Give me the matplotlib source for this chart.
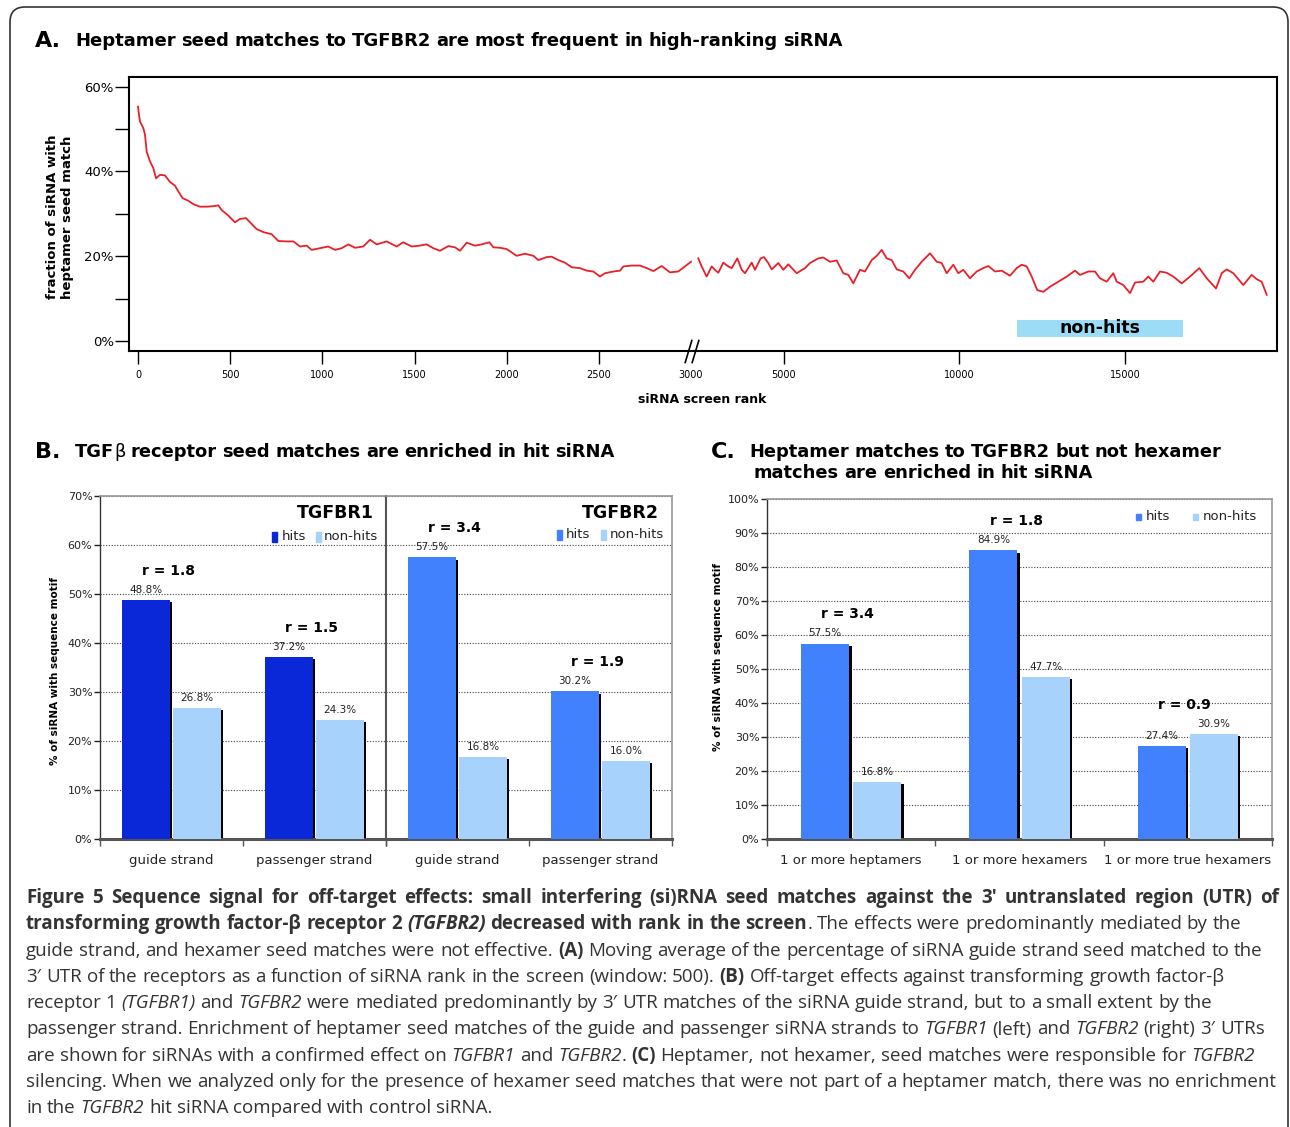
import numpy as np
import matplotlib
matplotlib.use("Agg")
import matplotlib.pyplot as plt
from matplotlib.patches import FancyBboxPatch, Rectangle
from matplotlib.transforms import offset_copy, blended_transform_factory

W, H = 1290, 1127

# ---- panel A: moving average (window 500) of siRNA with a heptamer seed match
rank_top = [0, 5, 11, 29, 38, 47, 65, 83, 98, 119, 146, 174, 200, 219, 242, 273, 300, 336,
            372, 408, 436, 454, 490, 526, 553, 586, 617, 644, 680, 725, 761, 807, 843, 879,
            915, 942, 987, 1032, 1069, 1105, 1141, 1177, 1222, 1259, 1295, 1349, 1403, 1439,
            1485, 1527, 1566, 1602, 1638, 1684, 1720, 1747, 1783, 1828, 1865, 1906, 1928,
            1964, 2000, 2054, 2099, 2145, 2172, 2217, 2244, 2280, 2316, 2353, 2398, 2434,
            2470, 2506, 2534, 2579, 2615, 2633, 2678, 2723, 2760, 2796, 2841, 2886, 2931,
            2967, 3000]
frac_top = [55.3, 53.5, 51.8, 50.2, 48.7, 44.7, 42.4, 40.8, 38.4, 39.2, 39.1, 37.5, 36.7, 35.3, 33.7, 33.1, 32.3, 31.7,
            31.7, 31.8, 32.0, 30.9, 29.6, 28.0, 28.8, 29.0, 27.6, 26.4, 25.7, 25.2, 23.6, 23.5, 23.5, 22.3,
            22.5, 21.5, 21.9, 22.3, 21.5, 21.9, 22.8, 22.0, 22.3, 23.9, 22.8, 23.5, 22.3, 23.3,
            22.3, 22.5, 22.8, 21.9, 21.3, 22.4, 22.1, 21.3, 23.2, 22.5, 22.8, 23.3, 22.1,
            22.0, 21.7, 20.1, 20.6, 20.1, 19.1, 19.8, 19.9, 19.1, 18.5, 17.4, 17.2, 16.6,
            16.4, 15.2, 16.0, 16.4, 16.6, 17.6, 17.8, 17.8, 17.2, 16.5, 17.7, 16.2, 16.4,
            17.6, 18.7]
rank_rest = [3030, 3108, 3223, 3338, 3414, 3490, 3605, 3720, 3798, 3927, 4028, 4104, 4258, 4333,
             4464, 4540, 4639, 4717, 4869, 4984, 5123, 5363, 5600, 5743, 5980, 6123, 6314, 6506,
             6694, 6837, 6980, 7171, 7314, 7506, 7649, 7791, 7934, 8077, 8220, 8408, 8580, 8743,
             8934, 9171, 9363, 9506, 9649, 9837, 9980, 10130, 10331, 10533, 10732, 10883, 11084,
             11286, 11536, 11738, 11888, 12039, 12190, 12358, 12539, 12741, 12991, 13244, 13494,
             13645, 13895, 14096, 14247, 14449, 14648, 14750, 14949, 15151, 15301, 15551, 15702,
             15853, 16054, 16256, 16455, 16708, 16958, 17238, 17461, 17741, 17913, 18063, 18262,
             18563, 18816, 18967, 19117, 19268]
frac_rest = [19.5, 17.6, 15.2, 17.6, 16.8, 16.1, 18.5, 17.6, 17.2, 19.5, 16.8, 16.0, 18.5, 16.8,
             19.5, 19.8, 18.4, 16.9, 18.4, 16.8, 18.1, 16.0, 17.2, 18.4, 19.5, 19.7, 18.7, 19.0,
             16.0, 15.6, 13.6, 16.8, 16.4, 19.1, 20.1, 21.5, 19.5, 19.1, 16.9, 16.4, 14.8, 16.8,
             18.7, 20.7, 18.7, 18.4, 16.0, 18.0, 16.0, 16.8, 14.8, 16.4, 17.2, 17.7, 16.4,
             16.6, 15.4, 17.2, 18.0, 17.6, 15.2, 12.0, 11.6, 12.8, 14.0, 15.2, 16.6,
             15.6, 16.4, 16.4, 14.8, 14.0, 16.0, 14.0, 13.2, 11.3, 13.8, 14.0, 15.2,
             14.0, 16.4, 16.1, 15.2, 13.6, 15.2, 17.2, 14.8, 12.4, 16.0, 16.9, 16.0,
             13.2, 15.6, 14.6, 14.0, 10.9]
a_xticks = [0, 500, 1000, 1500, 2000, 2500, 3000, 5000, 10000, 15000]
a_yticks = [0, 20, 40, 60]
nonhit_span = (11750, 16750)

# ---- panel B: TGFBR1 / TGFBR2 seed matches, hits vs non-hits
strands = ['guide strand', 'passenger strand']
r1_hits = [48.8, 37.2]
r1_non = [26.8, 24.3]
r1_ratio = ['1.8', '1.5']
r2_hits = [57.5, 30.2]
r2_non = [16.8, 16.0]
r2_ratio = ['3.4', '1.9']

# ---- panel C: heptamer vs hexamer matches to TGFBR2
c_groups = ['1 or more heptamers', '1 or more hexamers', '1 or more true hexamers']
c_hits = [57.5, 84.9, 27.4]
c_non = [16.8, 47.7, 30.9]
c_ratio = ['3.4', '1.8', '0.9']

caption = [
    [("Figure 5 Sequence signal for off-target effects: small interfering (si)RNA seed matches against the 3\u2032 untranslated region (UTR) of", 'b')],
    [("transforming growth factor-\u03b2 receptor 2 ", 'b'), ("(TGFBR2)", 'bi'),
     (" decreased with rank in the screen", 'b'), (". The effects were predominantly mediated by the", 'r')],
    [("guide strand, and hexamer seed matches were not effective. ", 'r'), ("(A)", 'b'),
     (" Moving average of the percentage of siRNA guide strand seed matched to the", 'r')],
    [("3\u2032 UTR of the receptors as a function of siRNA rank in the screen (window: 500). ", 'r'), ("(B)", 'b'),
     (" Off-target effects against transforming growth factor-\u03b2", 'r')],
    [("receptor 1 ", 'r'), ("(TGFBR1)", 'i'), (" and ", 'r'), ("TGFBR2", 'i'),
     (" were mediated predominantly by 3\u2032 UTR matches of the siRNA guide strand, but to a small extent by the", 'r')],
    [("passenger strand. Enrichment of heptamer seed matches of the guide and passenger siRNA strands to ", 'r'),
     ("TGFBR1", 'i'), (" (left) and ", 'r'), ("TGFBR2", 'i'), (" (right) 3\u2032 UTRs", 'r')],
    [("are shown for siRNAs with a confirmed effect on ", 'r'), ("TGFBR1", 'i'), (" and ", 'r'), ("TGFBR2", 'i'),
     (". ", 'r'), ("(C)", 'b'), (" Heptamer, not hexamer, seed matches were responsible for ", 'r'), ("TGFBR2", 'i')],
    [("silencing. When we analyzed only for the presence of hexamer seed matches that were not part of a heptamer match, there was no enrichment", 'r')],
    [("in the ", 'r'), ("TGFBR2", 'i'), (" hit siRNA compared with control siRNA.", 'r')],
]

RED = '#e8202a'
DARK_BLUE = '#0a27d8'
MID_BLUE = '#4181fe'
LIGHT_BLUE = '#a7d2fb'
STYLE = {'r': {}, 'b': {'weight': 'bold'}, 'i': {'style': 'italic'},
         'bi': {'weight': 'bold', 'style': 'italic'}}

plt.rcParams['font.family'] = ['DejaVu Sans']
fig = plt.figure(figsize=(W / 100, H / 100), dpi=100)
renderer = fig.canvas.get_renderer()


def box(l, t, r, b):
    return [l / W, 1 - b / H, (r - l) / W, (b - t) / H]


def ftext(x, y, s, **kw):
    return fig.text(x / W, 1 - y / H, s, **kw)


def fbox(l, t, r, b, color):
    fig.patches.append(Rectangle((l / W, 1 - b / H), (r - l) / W, (b - t) / H,
                                 transform=fig.transFigure, color=color))


def split_words(runs):
    words = [[]]
    for text, st in runs:
        for i, part in enumerate(text.split(' ')):
            if i:
                words.append([])
            if part:
                words[-1].append((part, st))
    return [w for w in words if w]


def put_runs(x, y, runs, size, family, color='black', space=0.3, width=None):
    gap = space * size * 100 / 72
    words = []
    for word in split_words(runs):
        pieces = []
        for part, st in word:
            t = ftext(0, y, part, fontsize=size, family=family, color=color,
                      va='baseline', ha='left', **STYLE[st])
            pieces.append((t, t.get_window_extent(renderer).width))
        words.append(pieces)
    total = sum(w for pieces in words for _, w in pieces)
    if width is not None and len(words) > 1:
        gap = (width - total) / (len(words) - 1)
    xs = x
    made = []
    for pieces in words:
        for t, w in pieces:
            t.set_x(xs / W)
            xs += w
            made.append(t)
        xs += gap
    return made, xs - gap - x


def fit_size(runs, target, family, space, base=10):
    made, w = put_runs(0, 0, runs, base, family, space=space)
    for t in made:
        t.remove()
    return base * target / w


# ---- outer rounded frame
fig.patches.append(FancyBboxPatch((0.10, -0.4), 12.78, 11.6, boxstyle='round,pad=0,rounding_size=0.15',
                                  transform=fig.dpi_scale_trans, fill=False, ec='#333333', lw=1.2))

# ---- panel A
brk_v = [-1000, 3000, 3000.5, 5000, 10000, 15000, 30000]
brk_p = [138 - 1000 * 553 / 3000, 691, 697, 784, 959, 1125, 1125 + 15000 * 166 / 5000]


def fwd(v):
    return np.interp(v, brk_v, brk_p)


def inv(p):
    return np.interp(p, brk_p, brk_v)


axA = fig.add_axes(box(129, 77, 1277, 351))
axA.set_xscale('function', functions=(fwd, inv))
axA.plot(rank_top, frac_top, color=RED, lw=1.3)
axA.plot(rank_rest, frac_rest, color=RED, lw=1.3)
axA.set_xlim(inv(129), inv(1277))
axA.set_ylim(-2.36, 62.3)
axA.set_yticks(a_yticks, [f'{v}%' for v in a_yticks])
axA.set_yticks([10, 30, 50], minor=True)
axA.set_xticks(a_xticks, [str(v) for v in a_xticks])
axA.tick_params(axis='y', which='both', length=10, width=1, labelsize=9.5, pad=1, colors='black')
axA.tick_params(axis='x', length=9, width=1, labelsize=7, pad=5)
axA.xaxis.get_major_ticks()[6].tick1line.set_visible(False)
for s in axA.spines.values():
    s.set_linewidth(1.5)
brk = blended_transform_factory(axA.transData, axA.transAxes)
axA.plot([2985, 3000.3], [0, 0], transform=brk, ls='none', marker=np.array([[-0.3, -1.0], [0.3, 1.0]]),
         ms=17, mew=1.2, mec='black', mfc='none', clip_on=False, zorder=5)
axA.add_patch(Rectangle((nonhit_span[0], 1.0), nonhit_span[1] - nonhit_span[0], 4.0,
                        color='#9ddcf7', lw=0, zorder=1))
axA.text(sum(nonhit_span) / 2, 3.05, 'non-hits', ha='center', va='center',
         fontsize=12.5, weight='bold', zorder=2)
ftext(60, 217, 'fraction of siRNA with\nheptamer seed match', rotation=90, ha='center', va='center',
      fontsize=9.5, weight='bold', linespacing=1.1)
ftext(702, 400, 'siRNA screen rank', ha='center', va='center', fontsize=9, weight='bold')


# ---- bar panels
def bar_axes(ax, ncat, ymax, labels_y=True):
    ax.set_xlim(-0.5, ncat - 0.5)
    ax.set_ylim(0, ymax)
    ax.set_yticks(range(0, ymax + 1, 10), [f'{v}%' for v in range(0, ymax + 1, 10)] if labels_y else [])
    ax.yaxis.grid(True, ls=(0, (1, 1.5)), color='#444444', lw=0.8)
    ax.set_axisbelow(True)
    ax.tick_params(axis='y', length=4 if labels_y else 0, width=1, labelsize=8, pad=1.5, colors='#222222')
    ax.set_xticks(np.arange(ncat + 1) - 0.5, [])
    ax.tick_params(axis='x', which='major', length=5, width=1, color='#555555')
    ax.spines['bottom'].set(color='#555555', lw=2.2)
    ax.spines['left'].set(color='#333333', lw=1.0)
    ax.spines['top'].set(color='#999999', lw=1.2)
    ax.spines['right'].set(color='#999999', lw=1.2)


def draw_pairs(ax, cats, hits, non, ratio, hit_color, off, width):
    x = np.arange(len(hits))
    shadow = offset_copy(ax.transData, fig=fig, x=2.5, y=-2.5, units='dots')
    for xs, vals, col in ((x - off, hits, hit_color), (x + off, non, LIGHT_BLUE)):
        ax.bar(xs, vals, width, color='black', transform=shadow, zorder=2)
        ax.bar(xs, vals, width, color=col, zorder=3)
        for xi, v in zip(xs, vals):
            ax.annotate(f'{v:.1f}%', (xi, v), xytext=(0, 7.2), textcoords='offset points',
                        ha='center', va='center', fontsize=7.5, color='#222222', zorder=4)
    for xi, h, n, r in zip(x, hits, non, ratio):
        ax.annotate(f'r = {r}', (xi, max(h, n)), xytext=(-2.5, 21), textcoords='offset points',
                    ha='center', va='center', fontsize=10, weight='bold', zorder=4)
    ax.set_xticks(x, cats, minor=True)
    ax.tick_params(axis='x', which='minor', length=0, labelsize=9.5, pad=11, labelcolor='#222222')


axB1 = fig.add_axes(box(100, 496, 386, 839))
axB2 = fig.add_axes(box(386, 496, 672, 839))
bar_axes(axB1, 2, 70)
bar_axes(axB2, 2, 70, labels_y=False)
axB1.spines['right'].set_visible(False)
axB2.spines['left'].set(color='#555555', lw=1.5)
draw_pairs(axB1, strands, r1_hits, r1_non, r1_ratio, DARK_BLUE, 0.178, 0.33)
draw_pairs(axB2, strands, r2_hits, r2_non, r2_ratio, MID_BLUE, 0.178, 0.33)

axC = fig.add_axes(box(767, 499, 1272, 839))
bar_axes(axC, 3, 100)
draw_pairs(axC, c_groups, c_hits, c_non, c_ratio, MID_BLUE, 0.155, 0.286)

for x, y in ((55, 671), (718, 657)):
    ftext(x, y, '% of siRNA with sequence motif', rotation=90, ha='center', va='center',
          fontsize=7.5, weight='bold')

# headings and legends inside the bar panels
ftext(374, 513, 'TGFBR1', ha='right', va='center', fontsize=12.5, weight='bold')
ftext(659, 513, 'TGFBR2', ha='right', va='center', fontsize=12.5, weight='bold')
for mk, tx, y, col in ((272, 282, 537, DARK_BLUE), (557, 566, 535, MID_BLUE)):
    fbox(mk, y - 5, mk + 5, y + 5, col)
    ftext(tx, y, 'hits', ha='left', va='center', fontsize=9.5, color='#222222')
for mk, tx, y in ((316, 324, 537), (601, 610, 535)):
    fbox(mk, y - 5, mk + 5, y + 5, LIGHT_BLUE)
    ftext(tx, y, 'non-hits', ha='left', va='center', fontsize=9.5, color='#222222')
fbox(1136, 514, 1141, 520, MID_BLUE)
ftext(1146, 516, 'hits', ha='left', va='center', fontsize=9.5, color='#222222')
fbox(1193, 514, 1198, 520, LIGHT_BLUE)
ftext(1203, 516, 'non-hits', ha='left', va='center', fontsize=9.5, color='#222222')

# ---- panel titles
TITLE_FONT = ['DejaVu Sans']
titleA = [("Heptamer seed matches to TGFBR2 are most frequent in high-ranking siRNA", 'b')]
titleB = [("TGF", 'b'), ("\u03b2", 'r'), (" receptor seed matches are enriched in hit siRNA", 'b')]
titleC1 = [("Heptamer matches to TGFBR2 but not hexamer", 'b')]
titleC2 = [("matches are enriched in hit siRNA", 'b')]
sA = fit_size(titleA, 771, TITLE_FONT, 0.3)
sB = fit_size(titleB, 539, TITLE_FONT, 0.3)
put_runs(75, 46, titleA, sA, TITLE_FONT, space=0.3)
put_runs(75, 457, titleB, sB, TITLE_FONT, space=0.3)
put_runs(749, 457, titleC1, sB, TITLE_FONT, space=0.3)
put_runs(754, 478, titleC2, sB, TITLE_FONT, space=0.3)
for x, y, s in ((35, 47, 'A.'), (35, 458, 'B.'), (711, 458, 'C.')):
    ftext(x, y, s, fontsize=16, weight='bold', va='baseline', ha='left')

# ---- caption (first line set full width, the rest ragged right)
CAP_FONT = ['Open Sans', 'DejaVu Sans']
sCap = fit_size(caption[7], 1252, CAP_FONT, 0.26)
for i, line in enumerate(caption):
    put_runs(26, 903 + 26.3 * i, line, sCap, CAP_FONT, color='#333333', space=0.26,
             width=1253 if i == 0 else None)

fig.savefig('out.png', dpi=100, facecolor='white')
